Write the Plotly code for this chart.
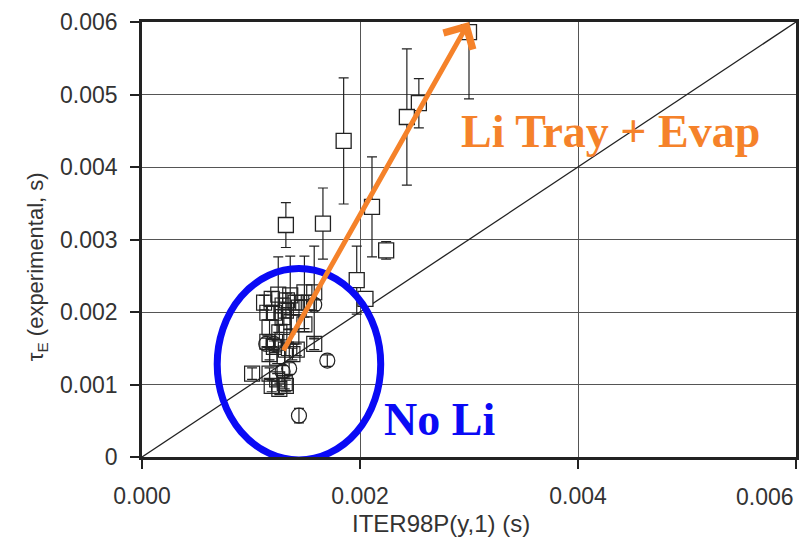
import plotly.graph_objects as go

# ---- data (seconds) ----
# Li tray + evaporation shots (isolated squares, larger error bars)
li_x = [0.00300, 0.00254, 0.00243, 0.00185, 0.00211, 0.00166, 0.00224, 0.00132, 0.00197, 0.00205]
li_y = [0.00586, 0.00488, 0.00469, 0.00436, 0.00345, 0.00322, 0.00285, 0.00320, 0.00244, 0.00218]
li_err = [0.00092, 0.00034, 0.00094, 0.00087, 0.00069, 0.00049, 0.00012, 0.00031, 0.00047, 0.00006]

# Cluster of squares (no Li / low Li)
cl_x = [0.00112, 0.00119, 0.00125, 0.00136, 0.00149, 0.00158, 0.00129, 0.00133, 0.00141, 0.00144,
        0.00153, 0.00121, 0.00129, 0.00137, 0.00149, 0.00117, 0.00126, 0.00137, 0.00132, 0.00115,
        0.00115, 0.00121, 0.00129, 0.00117, 0.00124, 0.00132, 0.00142, 0.00138, 0.00158, 0.00101,
        0.00117, 0.00124, 0.00131, 0.00119, 0.00126, 0.00132]
cl_y = [0.00213, 0.00218, 0.00224, 0.00223, 0.00227, 0.00227, 0.00209, 0.00216, 0.00213, 0.00206,
        0.00213, 0.00199, 0.00193, 0.00186, 0.00183, 0.00179, 0.00172, 0.00166, 0.00202, 0.00199,
        0.00159, 0.00152, 0.00161, 0.00142, 0.00137, 0.00148, 0.00148, 0.00142, 0.00156, 0.00115,
        0.00115, 0.00107, 0.00102, 0.00098, 0.00094, 0.00098]
cl_err = [0.00010, 0.00010, 0.00052, 0.00054, 0.00050, 0.00064, 0.00010, 0.00010, 0.00010, 0.00010,
          0.00010, 0.00010, 0.00010, 0.00010, 0.00010, 0.00010, 0.00010, 0.00010, 0.00010, 0.00010,
          0.00008, 0.00008, 0.00008, 0.00008, 0.00008, 0.00008, 0.00008, 0.00008, 0.00008, 0.00008,
          0.00008, 0.00008, 0.00008, 0.00008, 0.00008, 0.00008]

# Circles
ci_x = [0.00158, 0.00114, 0.00121, 0.00135, 0.00129, 0.00170, 0.00144]
ci_y = [0.00210, 0.00156, 0.00156, 0.00122, 0.00118, 0.00133, 0.00057]
ci_err = [0.00008, 0.00008, 0.00008, 0.00008, 0.00008, 0.00008, 0.00010]

# reference line y = x
diag = [0.0, 0.006]

# annotation anchors
arrow_start = (0.00129, 0.00145)
arrow_end = (0.00300, 0.00600)
ellipse_box = (0.00069, 0.00219, -0.00004, 0.00260)
li_label = ("Li Tray + Evap", 0.00430, 0.00449)
noli_label = ("No Li", 0.00273, 0.00052)

x_ticks = [0.0, 0.002, 0.004, 0.006]
x_tick_text = ["0.000", "0.002", "0.004", "0.006"]
y_ticks = [0.0, 0.001, 0.002, 0.003, 0.004, 0.005, 0.006]
y_tick_text = ["0", "0.001", "0.002", "0.003", "0.004", "0.005", "0.006"]
x_title = "ITER98P(y,1) (s)"
y_title = "τ<sub>E</sub> (experimental, s)"

ORANGE = "#F5822A"
BLUE = "#0A0AF5"
INK = "#222222"
TXT = "#333333"

fig = go.Figure()

fig.add_trace(go.Scatter(x=diag, y=diag, mode="lines",
                         line=dict(color="#222222", width=1.3), hoverinfo="skip"))

err_style = dict(type="data", symmetric=True, color=INK, thickness=1.2, width=5)

fig.add_trace(go.Scatter(
    x=cl_x, y=cl_y, mode="markers",
    marker=dict(symbol="square-open", size=15, color=INK, line=dict(width=1.2, color=INK)),
    error_y=dict(array=cl_err, **err_style)))

fig.add_trace(go.Scatter(
    x=li_x, y=li_y, mode="markers",
    marker=dict(symbol="square", size=15, color="white", line=dict(width=1.3, color=INK)),
    error_y=dict(array=li_err, **err_style)))

fig.add_trace(go.Scatter(
    x=ci_x, y=ci_y, mode="markers",
    marker=dict(symbol="circle-open", size=15, color=INK, line=dict(width=1.2, color=INK)),
    error_y=dict(array=ci_err, **err_style)))

fig.add_shape(type="circle", xref="x", yref="y",
              x0=ellipse_box[0], x1=ellipse_box[1], y0=ellipse_box[2], y1=ellipse_box[3],
              line=dict(color=BLUE, width=7), layer="above")

fig.add_annotation(x=arrow_end[0], y=arrow_end[1], ax=arrow_start[0], ay=arrow_start[1],
                   xref="x", yref="y", axref="x", ayref="y", text="", showarrow=True,
                   arrowhead=4, arrowsize=1.3, arrowwidth=5, arrowcolor=ORANGE)

fig.add_annotation(x=li_label[1], y=li_label[2], xref="x", yref="y", text="<b>%s</b>" % li_label[0],
                   showarrow=False, font=dict(family="Liberation Serif", size=46, color=ORANGE))
fig.add_annotation(x=noli_label[1], y=noli_label[2], xref="x", yref="y", text="<b>%s</b>" % noli_label[0],
                   showarrow=False, font=dict(family="Liberation Serif", size=46, color=BLUE))

# last x tick label drawn right-aligned so it fits inside the page
fig.add_annotation(x=x_ticks[-1], y=-0.092, xref="x", yref="paper", text=x_tick_text[-1],
                   xanchor="right", yanchor="middle", showarrow=False,
                   font=dict(family="Liberation Sans", size=23, color=TXT))

# axis titles
fig.add_annotation(x=0.457, y=-0.154, xref="paper", yref="paper", text=x_title,
                   xanchor="center", yanchor="middle", showarrow=False,
                   font=dict(family="Liberation Sans", size=24, color=TXT))
fig.add_annotation(x=-0.160, y=0.437, xref="paper", yref="paper", text=y_title, textangle=-90,
                   xanchor="center", yanchor="middle", showarrow=False,
                   font=dict(family="Liberation Sans", size=22, color=TXT))

axis_common = dict(showline=True, linecolor="#222222", linewidth=2.5, mirror=True,
                   ticks="outside", ticklen=9, tickwidth=1.5, tickcolor="#222222",
                   showgrid=True, gridcolor="#555555", gridwidth=1, zeroline=False,
                   tickfont=dict(family="Liberation Sans", size=23, color=TXT))

fig.update_xaxes(range=[0, 0.006], tickvals=x_ticks,
                 ticktext=x_tick_text[:-1] + [""], ticklabelstandoff=8, **axis_common)
fig.update_yaxes(range=[0, 0.006], tickvals=y_ticks, ticktext=y_tick_text,
                 ticklabelstandoff=8, **axis_common)

fig.update_layout(width=808, height=547, showlegend=False,
                  margin=dict(l=142, r=9, t=15, b=90),
                  paper_bgcolor="white", plot_bgcolor="white")

fig.write_html("out.html")
